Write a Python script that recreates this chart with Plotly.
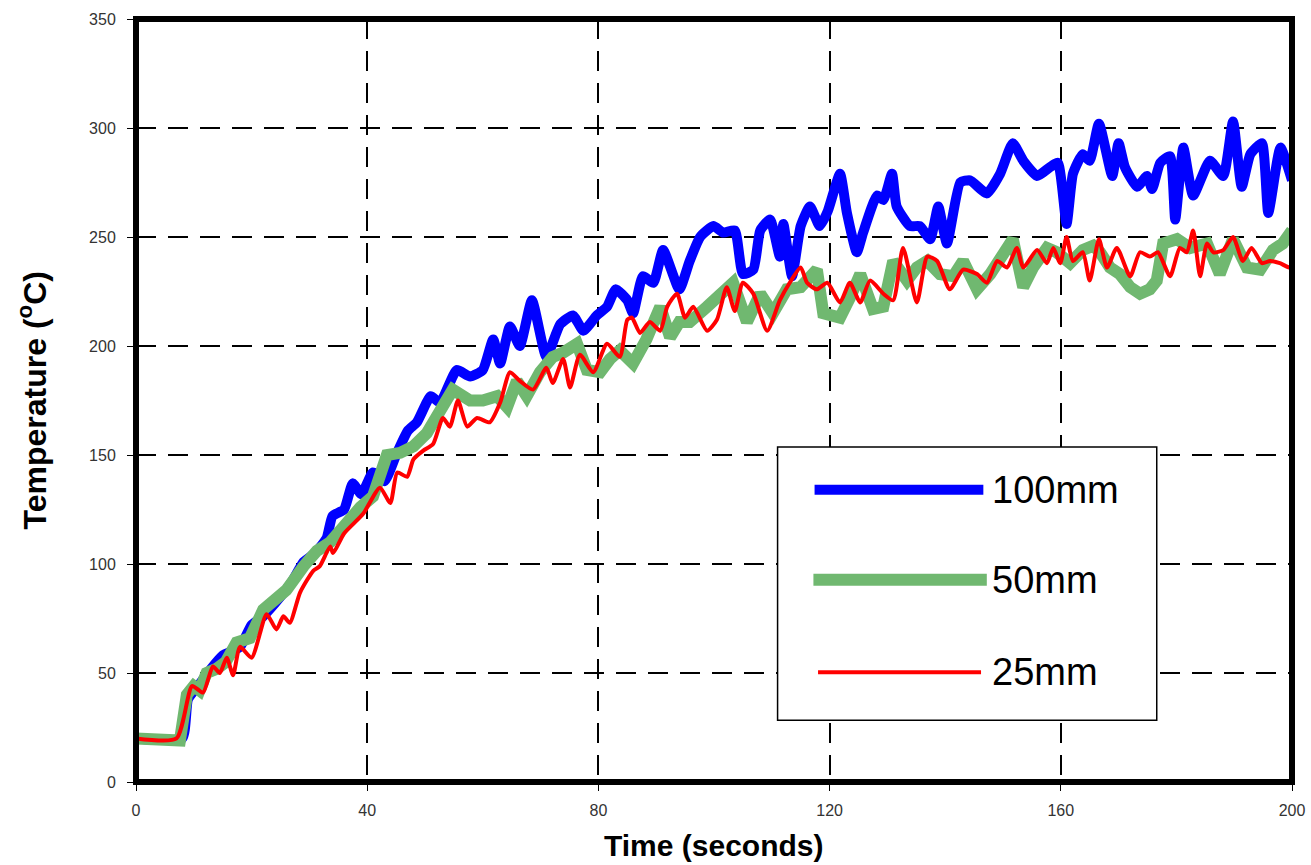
import plotly.graph_objects as go

# Thermocouple readings at three depths: time (s) and temperature (°C)
t_100 = [0, 8, 9, 11, 13, 15, 18, 20, 22, 25, 27, 29, 31, 33, 34, 36, 37.5, 39, 41, 43, 45, 47, 48.6,
         51, 52.6, 55.5, 57.8, 60, 61.8, 63, 64.7, 66.4, 68.5, 71, 73.4, 75.6, 77.4, 79.7, 81.5, 83,
         85, 86, 87.7, 89.5, 91.2, 94, 95.8, 97.6, 99.9, 101.6, 103.6, 105, 106.8, 108, 109.7, 111.4,
         112, 113.5, 115, 116.6, 118.3, 119.7, 121.8, 123, 124.7, 125.8, 128.2, 129.3, 130.8, 131.6,
         133.9, 135.6, 137.4, 138.8, 140.3, 142.6, 144.3, 147.2, 149.5, 151.7, 153.5, 155.9, 158.1,
         159.5, 161, 162.1, 163.8, 165, 166.6, 168.9, 170, 171.1, 173.2, 174.9, 175.8, 177.2, 178.9,
         179.8, 181.2, 182.9, 185.8, 188.1, 189.8, 191.3, 192.8, 194.8, 195.9, 198, 200]
temp_100 = [20, 20, 38, 45, 52, 58, 62, 72, 76, 85, 92, 101, 105, 112, 122, 125, 137, 132, 142, 138,
            150, 161, 165, 177, 174, 189, 186, 189, 203, 192, 209, 200, 221, 195, 210, 214, 207, 214,
            218, 226, 221, 215, 232, 229, 244, 226, 239, 250, 255, 252, 253, 233, 235, 253, 258, 241,
            256, 232, 255, 264, 255, 262, 279, 261, 243, 252, 269, 267, 279, 264, 255, 255, 249, 264,
            247, 275, 276, 270, 279, 293, 285, 278, 282, 284, 256, 279, 288, 285, 302, 278, 293, 282,
            273, 278, 272, 284, 287, 258, 291, 269, 285, 278, 303, 273, 288, 293, 261, 291, 276]

t_50 = [0, 6, 7.6, 8.8, 10, 11, 12.2, 14, 15.5, 17.4, 19.7, 22, 24.3, 26, 29, 31.3, 33.6, 35.8, 37,
        38.8, 41, 43.4, 45.7, 48, 50.3, 52, 54.8, 57.8, 60, 62.5, 64.2, 65.9, 67.6, 69.9, 72.1, 73.9,
        76.3, 78, 80.3, 82, 83.7, 86, 88.3, 90.7, 92.4, 94, 95.8, 98.8, 101, 103.3, 105.7, 108, 110.2,
        112.6, 115, 117.8, 118.9, 121.8, 123.5, 125.3, 127.5, 129.3, 131, 133.4, 135.1, 136.9, 139.1,
        141.4, 143.1, 145.5, 147.8, 150, 151.7, 153.5, 155.2, 157.6, 159.3, 161.6, 163.8, 165.6,
        166.8, 168.5, 170.2, 172, 173.7, 175.4, 176.6, 177.7, 180.1, 182.4, 185.3, 187.5, 189.8,
        192.2, 194.5, 196.7, 198.4, 200]
temp_50 = [20, 19, 19, 40, 44, 42, 50, 52, 55, 64, 66, 79, 84, 88, 99, 106, 110, 117, 121, 126, 131,
           150, 151, 154, 160, 167, 180, 175, 175, 177, 172, 184, 177, 188, 195, 197, 201, 189, 188,
           194, 198, 192, 203, 218, 204, 211, 211, 218, 224, 229, 211, 224, 215, 226, 227, 235, 215,
           213, 222, 233, 217, 218, 239, 230, 236, 239, 233, 232, 239, 226, 233, 243, 249, 227, 236,
           245, 243, 238, 244, 246, 243, 236, 233, 227, 224, 226, 230, 247, 249, 245, 247, 233, 249,
           236, 235, 244, 247, 253]

t_25 = [0, 7, 9.7, 11.6, 13.3, 14.5, 15.7, 16.8, 18, 20, 22.6, 24.3, 25.5, 26.6, 28.4, 30.7, 31.8,
        33.6, 34.1, 36, 39.3, 42.2, 44, 45.2, 46.9, 48, 49.7, 51.4, 53.1, 54.3, 55.7, 57.3, 59, 61.2,
        63, 64.7, 66.4, 68.7, 71, 72.1, 73.9, 75.1, 76.8, 79.1, 81.5, 83.7, 85, 85.8, 87.2, 88.9,
        90.7, 91.9, 93.6, 95, 96.4, 98.8, 100.5, 102.2, 103.6, 105, 106.8, 109.2, 111.4, 113.1, 115,
        116.1, 117.8, 119.6, 121.8, 123.5, 125.3, 127, 129.3, 131, 132.7, 135.1, 136.9, 138.6, 140.8,
        143.1, 145.5, 147.2, 149, 150.7, 152.4, 153.5, 155.9, 157.6, 158.7, 159.9, 161, 162.1, 163.8,
        165, 166.6, 168, 169.7, 172, 173.7, 175.4, 176.8, 178.9, 180.6, 181.8, 182.9, 184.1, 185.3,
        186.4, 188.1, 189.8, 191.5, 193, 194.8, 196.2, 197.9, 199.7, 200]
temp_25 = [20, 20, 44, 41, 53, 50, 57, 49, 62, 57, 77, 70, 76, 73, 87, 97, 99, 108, 105, 114, 123,
           135, 128, 142, 140, 148, 152, 155, 167, 163, 175, 163, 167, 165, 174, 188, 184, 180, 190,
           183, 194, 181, 196, 188, 201, 195, 212, 213, 206, 211, 207, 218, 224, 213, 218, 207, 212,
           227, 216, 229, 224, 207, 221, 229, 236, 229, 226, 229, 220, 229, 220, 230, 224, 221, 245,
           220, 241, 239, 226, 235, 233, 229, 239, 236, 245, 236, 244, 238, 245, 238, 250, 239, 243,
           230, 249, 236, 245, 232, 243, 241, 243, 232, 245, 243, 253, 232, 247, 243, 244, 250, 239,
           245, 238, 239, 238, 236, 248]

series_names = ["100mm", "50mm", "25mm"]
x_ticks = [0, 40, 80, 120, 160, 200]
y_ticks = [0, 50, 100, 150, 200, 250, 300, 350]

BLUE = "#0000ff"
GREEN = "rgb(112,184,112)"
RED = "#ff0000"
FONT = "Liberation Sans, Arial, sans-serif"

fig = go.Figure()
fig.add_trace(go.Scatter(x=t_100, y=temp_100, mode="lines", name=series_names[0],
                         line=dict(color=BLUE, width=10, shape="spline", smoothing=0.5)))
fig.add_trace(go.Scatter(x=t_50, y=temp_50, mode="lines", name=series_names[1],
                         line=dict(color=GREEN, width=12)))
fig.add_trace(go.Scatter(x=t_25, y=temp_25, mode="lines", name=series_names[2],
                         line=dict(color=RED, width=4, shape="spline", smoothing=0.6)))

axis_common = dict(
    showgrid=True, gridcolor="black", gridwidth=1.5, griddash="20px,12px",
    zeroline=False, showline=False, automargin=False,
    ticks="outside", ticklen=8, tickwidth=1, tickcolor="black",
    tickfont=dict(family=FONT, size=16, color="#333"),
)

fig.update_xaxes(range=[0, 200], tickvals=x_ticks, ticklabelstandoff=6, **axis_common)
fig.update_yaxes(range=[0, 350], tickvals=y_ticks, ticklabelstandoff=8, **axis_common)

# Heavy frame around the plotting area
shapes = [dict(type="rect", xref="paper", yref="paper", x0=0, x1=1, y0=0, y1=1,
               line=dict(color="black", width=6), layer="above")]

# Boxed key inside the plot
box = dict(x0=0.555, x1=0.883, y0=0.081, y1=0.439)
shapes.append(dict(type="rect", xref="paper", yref="paper", fillcolor="white",
                   line=dict(color="black", width=1.5), layer="above", **box))
key_rows = [(0.383, BLUE, 10, 0.587, 0.733), (0.265, GREEN, 12, 0.586, 0.736), (0.144, RED, 4, 0.590, 0.731)]
annotations = []
for name, (yk, col, w, xa, xb) in zip(series_names, key_rows):
    shapes.append(dict(type="line", xref="paper", yref="paper", x0=xa, x1=xb, y0=yk, y1=yk,
                       line=dict(color=col, width=w), layer="above"))
    annotations.append(dict(xref="paper", yref="paper", x=0.739, y=yk, xanchor="left", yanchor="middle",
                            text=name, showarrow=False, font=dict(family=FONT, size=38, color="black")))

annotations.append(dict(xref="paper", yref="paper", x=0.5, y=-0.083, xanchor="center", yanchor="middle",
                        text="<b>Time (seconds)</b>", showarrow=False,
                        font=dict(family=FONT, size=30, color="black")))
annotations.append(dict(xref="paper", yref="paper", x=-0.090, y=0.5, xanchor="center", yanchor="middle",
                        text="<b>Temperature (<sup>o</sup>C)</b>", textangle=-90, showarrow=False,
                        font=dict(family=FONT, size=32, color="black")))

fig.update_layout(
    width=1311, height=865,
    margin=dict(l=136, r=19, t=19, b=83),
    paper_bgcolor="white", plot_bgcolor="white",
    showlegend=False,
    shapes=shapes, annotations=annotations,
)

fig.write_html("out.html")
